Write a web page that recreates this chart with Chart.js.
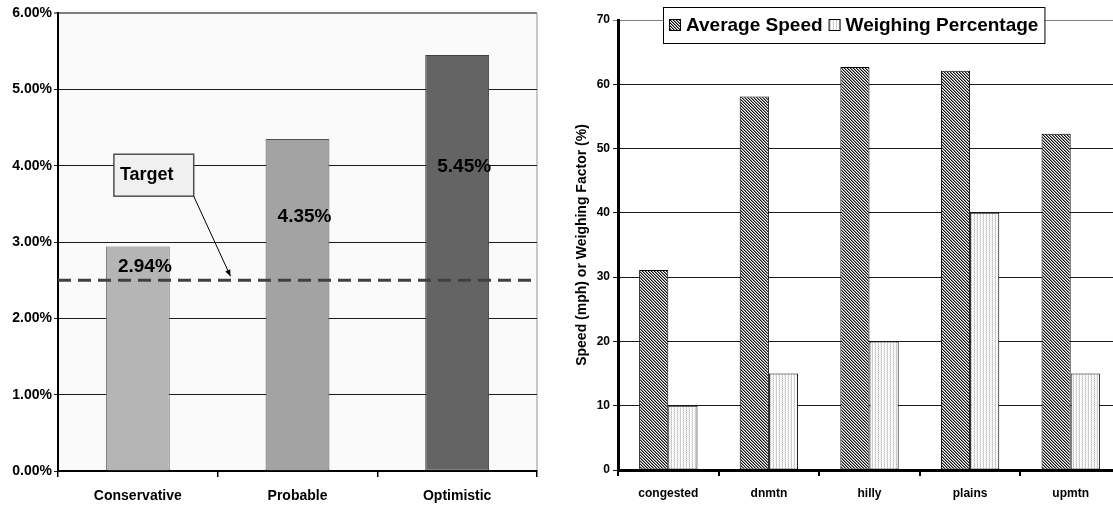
<!DOCTYPE html>
<html>
<head>
<meta charset="utf-8">
<script src="https://cdn.jsdelivr.net/npm/chart.js@4.4.1/dist/chart.umd.min.js"></script>
<style>
  html, body { margin: 0; padding: 0; background: #fff; overflow: hidden; }
  #wrap { position: relative; width: 1113px; height: 512px; overflow: hidden; }
  #rates { position: absolute; left: 0; top: 0; }
  #speeds { position: absolute; left: 560px; top: 0; }
</style>
</head>
<body>
<div id="wrap">
  <canvas id="rates" width="560" height="512"></canvas>
  <canvas id="speeds" width="565" height="512"></canvas>
</div>
<script>
// ---------- data ----------
const scenarios   = ["Conservative", "Probable", "Optimistic"];
const scenarioPct = [2.94, 4.35, 5.45];
const targetPct   = 2.5;
const pctTicks    = [0, 1, 2, 3, 4, 5, 6];

const roadTypes    = ["congested", "dnmtn", "hilly", "plains", "upmtn"];
const averageSpeed = [31.1, 58.1, 62.7, 62.1, 52.3];
const weighingPct  = [10, 15, 20, 40, 15];
const speedTicks   = [0, 10, 20, 30, 40, 50, 60, 70];

const FONT = "'Liberation Sans', Arial, sans-serif";
Chart.defaults.font.family = FONT;
Chart.defaults.font.weight = "bold";
Chart.defaults.color = "#000";

// ---------- left chart helpers ----------
const plotBackground = {
    id: "plotBackground",
    beforeDraw(chart, args, opts) {
        const { ctx, chartArea: a } = chart;
        ctx.save();
        ctx.fillStyle = opts.color;
        ctx.fillRect(a.left, a.top, a.right - a.left, a.bottom - a.top);
        if (opts.rightEdge) {
            ctx.strokeStyle = opts.rightEdge;
            ctx.lineWidth = 2;
            ctx.beginPath();
            ctx.moveTo(a.right, a.top);
            ctx.lineTo(a.right, a.bottom);
            ctx.stroke();
        }
        ctx.restore();
    }
};

// value labels inside the bars, dashed target line and the callout
const targetMarks = {
    id: "targetMarks",
    afterDatasetsDraw(chart, args, opts) {
        const { ctx, chartArea: a, scales: { x, y } } = chart;
        ctx.save();

        // bar labels
        ctx.font = "bold 19px " + FONT;
        ctx.fillStyle = "#000";
        ctx.textAlign = "center";
        ctx.textBaseline = "middle";
        chart.getDatasetMeta(0).data.forEach((bar, i) => {
            const ly = y.getPixelForValue(opts.labelAt[i]);
            ctx.fillText(scenarioPct[i].toFixed(2) + "%", bar.x + 7, ly);
        });

        // target line
        const ty = y.getPixelForValue(targetPct);
        ctx.strokeStyle = "#404040";
        ctx.lineWidth = 3;
        ctx.setLineDash([13, 7]);
        ctx.beginPath();
        ctx.moveTo(a.left, ty);
        ctx.lineTo(a.right, ty);
        ctx.stroke();
        ctx.setLineDash([]);

        // callout box
        const bx0 = x.getPixelForValue(opts.box.x0), bx1 = x.getPixelForValue(opts.box.x1);
        const by0 = y.getPixelForValue(opts.box.y0), by1 = y.getPixelForValue(opts.box.y1);
        ctx.fillStyle = "#f0f0f0";
        ctx.fillRect(bx0, by0, bx1 - bx0, by1 - by0);
        ctx.strokeStyle = "#505050";
        ctx.lineWidth = 1.5;
        ctx.strokeRect(bx0, by0, bx1 - bx0, by1 - by0);
        ctx.fillStyle = "#000";
        ctx.textAlign = "left";
        ctx.font = "bold 18px " + FONT;
        ctx.fillText("Target", bx0 + 6, (by0 + by1) / 2);

        // arrow from the box corner to the line
        const ax = x.getPixelForValue(opts.arrowX), ay = ty - 4;
        ctx.strokeStyle = "#000";
        ctx.lineWidth = 1;
        ctx.beginPath();
        ctx.moveTo(bx1, by1);
        ctx.lineTo(ax, ay);
        ctx.stroke();
        const ang = Math.atan2(ay - by1, ax - bx1);
        ctx.beginPath();
        ctx.moveTo(ax, ay);
        ctx.lineTo(ax - 7 * Math.cos(ang - 0.4), ay - 7 * Math.sin(ang - 0.4));
        ctx.lineTo(ax - 7 * Math.cos(ang + 0.4), ay - 7 * Math.sin(ang + 0.4));
        ctx.closePath();
        ctx.fill();
        ctx.restore();
    }
};

new Chart(document.getElementById("rates"), {
    type: "bar",
    data: {
        labels: scenarios,
        datasets: [{
            data: scenarioPct,
            backgroundColor: ["#b5b5b5", "#a3a3a3", "#646464"],
            borderColor: ["#6e6e6e", "#505050", "#404040"],
            borderWidth: 1,
            borderSkipped: false,
            barPercentage: 0.4,
            categoryPercentage: 1
        }]
    },
    options: {
        responsive: false,
        animation: false,
        layout: { padding: { top: 13, right: 23, left: 0, bottom: 0 } },
        plugins: {
            legend: { display: false },
            tooltip: { enabled: false },
            plotBackground: { color: "#fafafa", rightEdge: "#c8c8c8" },
            targetMarks: {
                labelAt: [2.67, 3.33, 3.99],
                box: { x0: -0.15, x1: 0.35, y0: 4.15, y1: 3.6 },
                arrowX: 0.58
            }
        },
        scales: {
            x: {
                afterFit: s => { s.height = 41; },
                grid: { drawOnChartArea: false, tickLength: 6, color: "#000", lineWidth: 1.5 },
                border: { color: "#000", width: 2 },
                ticks: { font: { size: 14 }, padding: 11, color: "#000" }
            },
            y: {
                min: 0, max: 6,
                afterFit: s => { s.width = 58; },
                afterBuildTicks: s => { s.ticks = pctTicks.map(v => ({ value: v })); },
                grid: {
                    color: c => c.tick && c.tick.value === 6 ? "#7f7f7f" : "#1a1a1a",
                    lineWidth: c => c.tick && c.tick.value === 6 ? 2 : 1,
                    tickLength: 4
                },
                border: { color: "#000", width: 2 },
                ticks: {
                    font: { size: 14 }, padding: 2, color: "#000",
                    callback: v => v.toFixed(2) + "%"
                }
            }
        }
    },
    plugins: [plotBackground, targetMarks]
});

// ---------- right chart ----------
const sctx = document.getElementById("speeds").getContext("2d");

// dense "\" diagonal hatch
function hatchPattern() {
    const c = document.createElement("canvas");
    c.width = 3; c.height = 3;
    const g = c.getContext("2d");
    g.fillStyle = "#fff";
    g.fillRect(0, 0, 3, 3);
    for (let i = 0; i < 3; i++) {
        g.fillStyle = "#111";
        g.fillRect(i, i, 1, 1);
        g.fillStyle = "#888";
        g.fillRect((i + 1) % 3, i, 1, 1);
    }
    return sctx.createPattern(c, "repeat");
}

// light dotted fill
function dotPattern() {
    const c = document.createElement("canvas");
    c.width = 3; c.height = 2;
    const g = c.getContext("2d");
    g.fillStyle = "#fff";
    g.fillRect(0, 0, 3, 2);
    g.fillStyle = "#bdbdbd";
    g.fillRect(0, 0, 1, 1);
    g.fillStyle = "#dcdcdc";
    g.fillRect(0, 1, 1, 1);
    g.fillStyle = "#eaeaea";
    g.fillRect(2, 1, 1, 1);
    return sctx.createPattern(c, "repeat");
}

const speedFill = hatchPattern();
const weighFill = dotPattern();

// boxed legend sitting over the top of the plot
const boxedLegend = {
    id: "boxedLegend",
    afterDraw(chart, args, opts) {
        const { ctx, chartArea: a } = chart;
        const items = chart.data.datasets.map(d => ({ text: d.label, fill: d.backgroundColor }));
        ctx.save();
        ctx.font = "bold 19px " + FONT;
        const sw = 12, gap = 5, spacing = 6, padX = 6;
        let w = padX * 2;
        items.forEach((it, i) => { w += sw + gap + ctx.measureText(it.text).width + (i ? spacing : 0); });
        const x0 = a.left + opts.offsetX, y0 = opts.top, h = 36;
        ctx.fillStyle = "#fff";
        ctx.fillRect(x0, y0, w, h);
        ctx.strokeStyle = "#000";
        ctx.lineWidth = 1;
        ctx.strokeRect(x0 + 0.5, y0 + 0.5, w, h);
        let cx = x0 + padX;
        const cy = y0 + h / 2;
        ctx.textBaseline = "middle";
        items.forEach((it, i) => {
            if (i) cx += spacing;
            ctx.fillStyle = it.fill;
            ctx.fillRect(cx, cy - sw / 2, sw, sw);
            ctx.strokeStyle = "#000";
            ctx.strokeRect(cx + 0.5, cy - sw / 2 + 0.5, sw - 1, sw - 1);
            cx += sw + gap;
            ctx.fillStyle = "#000";
            ctx.fillText(it.text, cx, cy + 1);
            cx += ctx.measureText(it.text).width;
        });
        ctx.restore();
    }
};

new Chart(sctx, {
    type: "bar",
    data: {
        labels: roadTypes,
        datasets: [
            {
                label: "Average Speed",
                data: averageSpeed,
                backgroundColor: speedFill,
                borderColor: "#000",
                borderWidth: 1,
                borderSkipped: false
            },
            {
                label: "Weighing Percentage",
                data: weighingPct,
                backgroundColor: weighFill,
                borderColor: "#000",
                borderWidth: 1,
                borderSkipped: false
            }
        ]
    },
    options: {
        responsive: false,
        animation: false,
        datasets: { bar: { barPercentage: 1, categoryPercentage: 0.58 } },
        layout: { padding: { top: 20, right: 4, left: 0, bottom: 0 } },
        plugins: {
            legend: { display: false },
            tooltip: { enabled: false },
            boxedLegend: { offsetX: 45, top: 7 }
        },
        scales: {
            x: {
                afterFit: s => { s.height = 42; },
                grid: { drawOnChartArea: false, tickLength: 6, color: "#000", lineWidth: 2 },
                border: { color: "#000", width: 3 },
                ticks: { font: { size: 12 }, padding: 10, color: "#000" }
            },
            y: {
                min: 0, max: 70,
                afterFit: s => { s.width = 58; },
                afterBuildTicks: s => { s.ticks = speedTicks.map(v => ({ value: v })); },
                grid: {
                    color: c => c.tick && c.tick.value === 70 ? "#808080" : "#1a1a1a",
                    lineWidth: 1,
                    tickLength: 5
                },
                border: { color: "#000", width: 3 },
                title: {
                    display: true,
                    text: "Speed (mph) or Weighing Factor (%)",
                    font: { size: 14 },
                    color: "#000",
                    padding: { top: 14, bottom: 0 }
                },
                ticks: { font: { size: 12 }, padding: 3, color: "#000" }
            }
        }
    },
    plugins: [boxedLegend]
});
</script>
</body>
</html>
